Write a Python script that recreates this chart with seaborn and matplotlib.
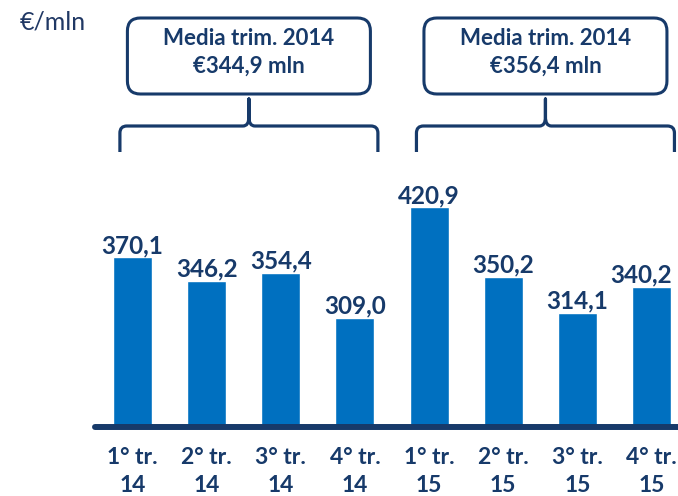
import matplotlib
matplotlib.use("Agg")
import matplotlib.pyplot as plt
from matplotlib.path import Path
from matplotlib.patches import PathPatch, FancyBboxPatch
from matplotlib.transforms import Affine2D
import seaborn as sns
import pandas as pd

# Dati: ricavi trimestrali (€/mln)
quarters = ["1° tr.\n14", "2° tr.\n14", "3° tr.\n14", "4° tr.\n14",
            "1° tr.\n15", "2° tr.\n15", "3° tr.\n15", "4° tr.\n15"]
revenue = [370.1, 346.2, 354.4, 309.0, 420.9, 350.2, 314.1, 340.2]
value_labels = ["370,1", "346,2", "354,4", "309,0", "420,9", "350,2", "314,1", "340,2"]

# gruppi con la media trimestrale
groups = [(0, 3), (4, 7)]
group_titles = ["Media trim. 2014", "Media trim. 2014"]
group_means = ["€344,9 mln", "€356,4 mln"]
unit_label = "€/mln"

BLUE = "#0070C0"
NAVY = "#173A6A"
W, H = 678, 496

sns.set_theme(style="white")
plt.rcParams["font.family"] = ["Lato", "DejaVu Sans"]

fig = plt.figure(figsize=(W / 100, H / 100), dpi=100)
ax = fig.add_axes([95 / W, (H - 427) / H, (W - 95) / W, 427 / H])

df = pd.DataFrame({"quarter": quarters, "value": revenue})
sns.barplot(data=df, x="quarter", y="value", color=BLUE, saturation=1,
            width=0.526, ax=ax)

ax.set_xlim(-0.506, 7.358)
ax.set_ylim(198, 631.5)
sns.despine(ax=ax, left=True, bottom=True)
ax.set_yticks([])
ax.set_xlabel("")
ax.set_ylabel("")
ax.set_xticklabels([])
ax.tick_params(axis="x", length=0)
ax.axhline(198, color=NAVY, lw=4.3, clip_on=False, zorder=5)

# pixel coords measured from the top of the figure
pix = Affine2D().scale(1, -1).translate(0, H)


def to_px(x):
    return ax.transData.transform((x, 0))[0]


# etichette dei valori
annots = []
for i, (v, lab) in enumerate(zip(revenue, value_labels)):
    annots.append(ax.annotate(lab, xy=(i, v), xytext=(0, 3),
                              textcoords="offset points", ha="center",
                              va="baseline", fontsize=17.5,
                              fontweight="bold", color=NAVY,
                              annotation_clip=False))

# etichette asse x su due righe
for i, q in enumerate(quarters):
    top, bottom = q.split("\n")
    xp = to_px(i)
    ax.text(xp, 464, top, transform=pix, ha="center", va="baseline",
            fontsize=16.5, fontweight="bold", color=NAVY)
    ax.text(xp, 492, bottom, transform=pix, ha="center", va="baseline",
            fontsize=16.5, fontweight="bold", color=NAVY)

fig.text(20, 29, unit_label, transform=pix, ha="left", va="baseline",
         fontsize=18, color="#203864")

# parentesi graffe e box con le medie
for (a, b), title, mean in zip(groups, group_titles, group_means):
    x0 = to_px(a - 0.17)
    x1 = to_px(b + 0.31)
    xc = (x0 + x1) / 2
    yb, yh, yt, r = 152, 126, 99, 7
    verts = [(x0, yb), (x0, yh + r), (x0, yh), (x0 + r, yh),
             (xc - 6, yh), (xc, yh), (xc, yh - 9), (xc, yt),
             (xc, yh - 9), (xc, yh), (xc + 6, yh),
             (x1 - r, yh), (x1, yh), (x1, yh + r), (x1, yb)]
    codes = [Path.MOVETO, Path.LINETO, Path.CURVE3, Path.CURVE3,
             Path.LINETO, Path.CURVE3, Path.CURVE3, Path.LINETO,
             Path.LINETO, Path.CURVE3, Path.CURVE3,
             Path.LINETO, Path.CURVE3, Path.CURVE3, Path.LINETO]
    brace = PathPatch(Path(verts, codes), transform=pix, fill=False,
                      edgecolor=NAVY, lw=2.3, capstyle="butt",
                      joinstyle="round")
    fig.add_artist(brace)

    bw = 243
    box = FancyBboxPatch((xc - bw / 2, 18), bw, 76,
                         boxstyle="round,pad=0,rounding_size=13",
                         transform=pix, facecolor="white",
                         edgecolor=NAVY, lw=2.2)
    fig.add_artist(box)
    fig.text(xc, 45, title, transform=pix, ha="center", va="baseline",
             fontsize=16, fontweight="bold", color=NAVY)
    fig.text(xc, 73, mean, transform=pix, ha="center", va="baseline",
             fontsize=16, fontweight="bold", color=NAVY)

# sposta a sinistra le etichette che escono dal bordo destro
fig.canvas.draw()
renderer = fig.canvas.get_renderer()
for an in annots:
    bb = an.get_window_extent(renderer)
    if bb.x1 > W - 6:
        shift = (bb.x1 - (W - 6)) * 72 / fig.dpi
        an.set_position((-shift, 3))

fig.savefig("out.png", dpi=100)
